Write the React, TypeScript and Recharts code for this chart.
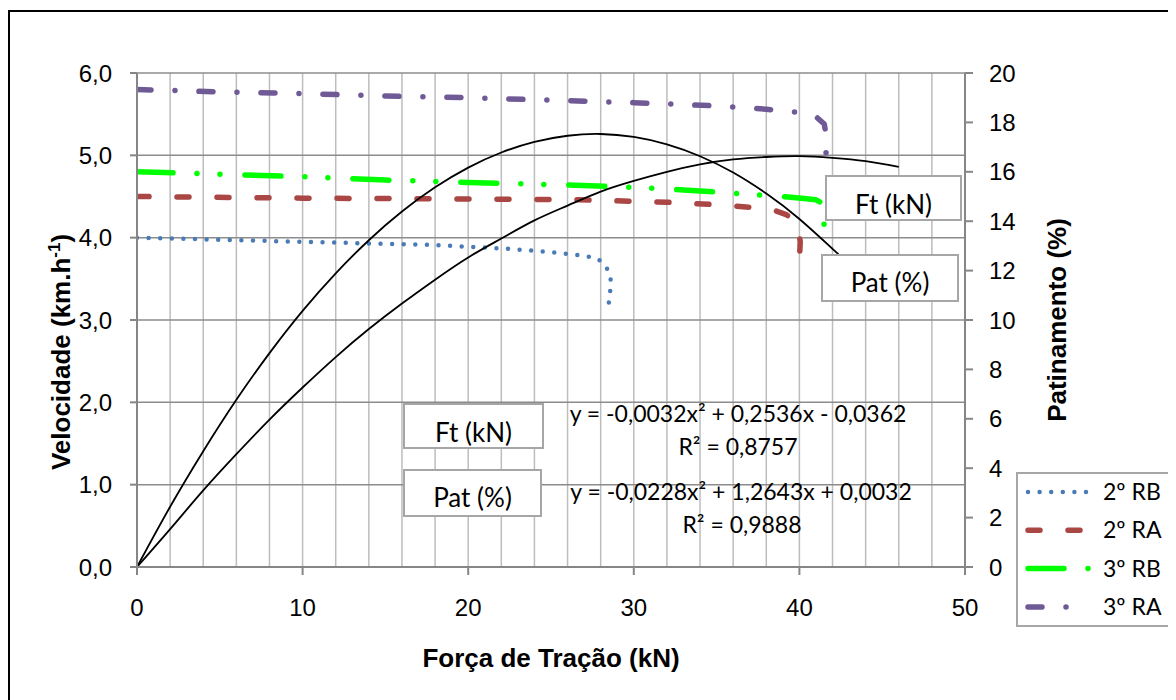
import React from 'react';
import { LineChart, Line, XAxis, YAxis, CartesianGrid, Legend } from 'recharts';

// velocidade (km/h) x força de tração (kN) para cada marcha/rotação
const rb2X = [0, 2, 4, 6, 8, 10, 12, 14, 16, 18, 20, 22, 24, 25.7, 27, 27.8, 28.3, 28.6, 28.6, 28.5, 28.45];
const rb2Y = [4.0, 3.99, 3.98, 3.97, 3.96, 3.95, 3.94, 3.93, 3.92, 3.91, 3.89, 3.87, 3.84, 3.81, 3.78, 3.75, 3.66, 3.53, 3.39, 3.24, 3.08];

const ra2X = [0, 10, 20, 26.7, 32, 35, 37, 38.5, 39.2, 39.7, 39.95, 40.05, 40.0];
const ra2Y = [4.5, 4.48, 4.47, 4.46, 4.43, 4.4, 4.37, 4.33, 4.28, 4.21, 4.1, 3.95, 3.73];

const rb3X = [0, 5, 10, 15, 20, 26, 30, 33, 36, 39.5, 41, 41.35, 41.5, 41.5, 41.45];
const rb3Y = [4.8, 4.77, 4.74, 4.7, 4.67, 4.64, 4.61, 4.58, 4.54, 4.49, 4.46, 4.42, 4.33, 4.2, 4.04];

const ra3X = [0, 5, 10, 15, 20, 25, 30, 35, 38, 40, 41, 41.5, 41.65, 41.6, 41.5];
const ra3Y = [5.8, 5.77, 5.75, 5.72, 5.7, 5.67, 5.64, 5.6, 5.56, 5.52, 5.47, 5.38, 5.2, 5.0, 4.83];

// linhas de tendência (Ft no eixo esquerdo, Pat no eixo direito)
const ftX = [0, 2, 4, 6, 8, 10, 12, 14, 16, 18, 20, 22, 24, 26, 28, 30, 32, 34, 36, 38, 40, 42, 44, 46];
const ftY = [0, 0.46, 0.93, 1.37, 1.79, 2.18, 2.55, 2.89, 3.2, 3.49, 3.76, 3.99, 4.21, 4.39, 4.56, 4.69, 4.8, 4.89, 4.95, 4.98, 4.99, 4.97, 4.93, 4.86];
const patX = [0, 2, 4, 6, 8, 10, 12, 14, 16, 18, 20, 22, 24, 26, 28, 30, 32, 34, 36, 38, 40, 42, 42.3];
const patY = [0, 2.44, 4.69, 6.77, 8.66, 10.37, 11.89, 13.23, 14.39, 15.37, 16.17, 16.78, 17.21, 17.46, 17.53, 17.41, 17.11, 16.63, 15.97, 15.12, 14.09, 12.88, 12.7];

const xTicks = [0, 10, 20, 30, 40, 50];
const gridTicks = [0, 2, 4, 6, 8, 10, 12, 14, 16, 18, 20, 22, 24, 26, 28, 30, 32, 34, 36, 38, 40, 42, 44, 46, 48, 50];
const leftTicks = [0, 1, 2, 3, 4, 5, 6];
const rightTicks = [0, 2, 4, 6, 8, 10, 12, 14, 16, 18, 20];

const X_MAX = 50;

const toPoints = (xs: number[], ys: number[]) => xs.map((x, i) => ({ x, y: ys[i] }));

const series = [
  { name: '2º RB', data: toPoints(rb2X, rb2Y), color: '#4a7bb7', width: 4.5, dash: '0 11.6' },
  { name: '2º RA', data: toPoints(ra2X, ra2Y), color: '#aa4643', width: 5.5, dash: '12 28' },
  { name: '3º RB', data: toPoints(rb3X, rb3Y), color: '#00ff00', width: 5.5, dash: '36 24 0 23 0 25' },
  { name: '3º RA', data: toPoints(ra3X, ra3Y), color: '#705a95', width: 5.5, dash: '14 24 0 24' },
];

const AXIS = '#868686';
const ARIAL = '"Liberation Sans", Arial, sans-serif';
const CALIBRI = 'Lato, "Open Sans", sans-serif';

const tickStyle = { fontSize: 24, fill: '#000', fontFamily: ARIAL };

// linhas verticais da grade a cada 2 kN, usando a escala do eixo X
const verticalLines = ({ xAxis, offset }: any) => {
  if (xAxis && typeof xAxis.scale === 'function') {
    return gridTicks.map((t) => xAxis.scale(t));
  }
  return gridTicks.map((t) => offset.left + (t / X_MAX) * offset.width);
};

const LeftTitle = (props: any) => {
  const vb = props.viewBox;
  const cy = vb ? vb.y + vb.height / 2 + 32 : 344;
  return (
    <text transform={`translate(62, ${cy}) rotate(-90)`} textAnchor="middle"
      style={{ fontFamily: ARIAL, fontWeight: 700, fontSize: 26, fill: '#000' }}>
      Velocidade (km.h<tspan dy={-10} fontSize={17}>-1</tspan><tspan dy={10}>)</tspan>
    </text>
  );
};

const RightTitle = (props: any) => {
  const vb = props.viewBox;
  const cy = vb ? vb.y + vb.height / 2 : 312;
  return (
    <text transform={`translate(1058, ${cy}) rotate(-90)`} textAnchor="middle"
      style={{ fontFamily: ARIAL, fontWeight: 700, fontSize: 26, fill: '#000' }}>
      Patinamento (%)
    </text>
  );
};

const LegendBox = () => (
  <svg width={155} height={155} style={{ display: 'block' }}>
    <rect x={1} y={1} width={153} height={153} fill="#fff" stroke="#a6a6a6" strokeWidth={2} />
    {series.map((s, i) => {
      const cy = 20 + i * 38.3;
      return (
        <g key={s.name}>
          <line x1={12} x2={73} y1={cy} y2={cy} stroke={s.color} strokeWidth={s.width}
            strokeDasharray={s.dash} strokeLinecap="round" />
          <text x={87} y={cy + 8} style={{ fontFamily: CALIBRI, fontSize: 23, fill: '#000' }}>{s.name}</text>
        </g>
      );
    })}
  </svg>
);

const boxes = [
  { label: 'Ft (kN)', x: 818, y: 168, w: 135, h: 44, base: 206 },
  { label: 'Pat (%)', x: 814, y: 247, w: 136, h: 46, base: 284 },
  { label: 'Ft (kN)', x: 396, y: 396, w: 139, h: 44, base: 434 },
  { label: 'Pat (%)', x: 396, y: 462, w: 137, h: 46, base: 499 },
];

const equations = [
  { text: 'y = -0,0032x² + 0,2536x - 0,0362', cx: 730, base: 414 },
  { text: 'R² = 0,8757', cx: 730, base: 447 },
  { text: 'y = -0,0228x² + 1,2643x + 0,0032', cx: 733, base: 492 },
  { text: 'R² = 0,9888', cx: 734, base: 525 },
];

export default function App() {
  return (
    <div style={{ position: 'relative', width: 1168, height: 692, overflow: 'hidden', background: '#fff', fontFamily: ARIAL }}>
      <div style={{ position: 'absolute', left: 0, top: 2, width: 1300, height: 1000, border: '2px solid #000', boxSizing: 'border-box' }} />
      <div style={{ position: 'absolute', left: 0, top: 0 }}>
        <LineChart width={1168} height={692} margin={{ top: 65, right: 111, bottom: 23, left: 0 }}>
          <CartesianGrid yAxisId="left" horizontal={false} verticalCoordinatesGenerator={verticalLines}
            stroke="#bdbdbd" strokeWidth={1.5} />
          <CartesianGrid yAxisId="left" vertical={false} stroke="#8c8c8c" strokeWidth={1.5} />
          <XAxis
            dataKey="x"
            type="number"
            domain={[0, X_MAX]}
            ticks={xTicks}
            interval={0}
            allowDataOverflow
            height={110}
            tickSize={8}
            tickMargin={24}
            tick={tickStyle}
            axisLine={{ stroke: AXIS, strokeWidth: 2 }}
            tickLine={{ stroke: AXIS, strokeWidth: 2 }}
            label={{ value: 'Força de Tração (kN)', position: 'insideBottom', offset: 10, fontSize: 26, fontWeight: 700, fill: '#000', fontFamily: ARIAL }}
          />
          <YAxis
            yAxisId="left"
            type="number"
            domain={[0, 6]}
            ticks={leftTicks}
            interval={0}
            allowDataOverflow
            width={129}
            tickSize={7}
            tickMargin={18}
            tick={tickStyle}
            tickFormatter={(v: number) => v.toFixed(1).replace('.', ',')}
            axisLine={{ stroke: AXIS, strokeWidth: 2 }}
            tickLine={{ stroke: AXIS, strokeWidth: 2 }}
            label={<LeftTitle />}
          />
          <YAxis
            yAxisId="right"
            orientation="right"
            type="number"
            domain={[0, 20]}
            ticks={rightTicks}
            interval={0}
            allowDataOverflow
            width={100}
            tickSize={8}
            tickMargin={16}
            tick={{ ...tickStyle, textAnchor: 'start' }}
            axisLine={{ stroke: AXIS, strokeWidth: 2 }}
            tickLine={{ stroke: AXIS, strokeWidth: 2 }}
            label={<RightTitle />}
          />
          {series.map((s) => (
            <Line
              key={s.name}
              yAxisId="left"
              data={s.data}
              dataKey="y"
              name={s.name}
              type="linear"
              stroke={s.color}
              strokeWidth={s.width}
              strokeDasharray={s.dash}
              strokeLinecap="round"
              strokeLinejoin="round"
              dot={false}
              activeDot={false}
              isAnimationActive={false}
            />
          ))}
          <Line yAxisId="left" data={toPoints(ftX, ftY)} dataKey="y" name="Ft (kN)" type="natural"
            stroke="#000" strokeWidth={1.8} dot={false} activeDot={false} legendType="none" isAnimationActive={false} />
          <Line yAxisId="right" data={toPoints(patX, patY)} dataKey="y" name="Pat (%)" type="natural"
            stroke="#000" strokeWidth={1.8} dot={false} activeDot={false} legendType="none" isAnimationActive={false} />
          <Legend
            layout="horizontal"
            verticalAlign="middle"
            align="center"
            content={() => <LegendBox />}
            wrapperStyle={{ left: 1008, top: 464, width: 155, height: 155 }}
          />
        </LineChart>
      </div>
      <svg width={1168} height={692} style={{ position: 'absolute', left: 0, top: 0, pointerEvents: 'none' }}>
        {boxes.map((b, i) => (
          <g key={i}>
            <rect x={b.x} y={b.y} width={b.w} height={b.h} fill="#fff" stroke="#a6a6a6" strokeWidth={2} />
            <text x={b.x + b.w / 2} y={b.base} textAnchor="middle" style={{ fontFamily: CALIBRI, fontSize: 26, fill: '#000' }}>{b.label}</text>
          </g>
        ))}
        {equations.map((e, i) => (
          <text key={i} x={e.cx} y={e.base} textAnchor="middle" style={{ fontFamily: CALIBRI, fontSize: 23, fill: '#000' }}>{e.text}</text>
        ))}
      </svg>
    </div>
  );
}
